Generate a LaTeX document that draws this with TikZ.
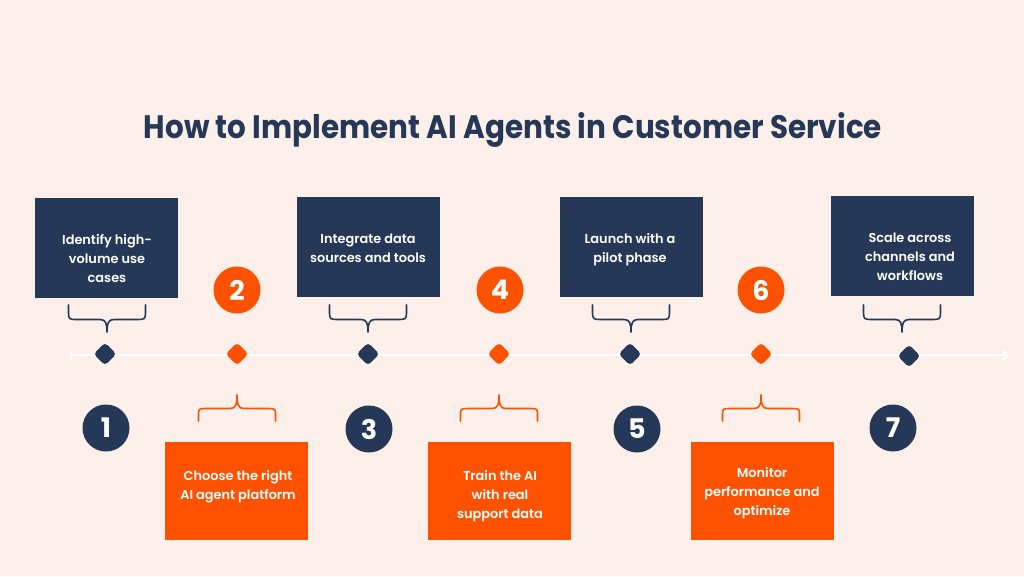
\documentclass[tikz,border=0pt]{standalone}
\usepackage{fontspec}
\setmainfont{Poppins}
\newfontfamily\labfont{Poppins SemiBold}
\usetikzlibrary{arrows.meta}
\definecolor{bg}{RGB}{253,240,234}
\definecolor{navy}{RGB}{37,56,88}
\definecolor{org}{RGB}{255,82,0}
\tikzset{
  navybox/.style={rectangle, fill=navy, minimum width=143pt, minimum height=100pt, inner sep=0},
  orgbox/.style={rectangle, fill=org, minimum width=143pt, minimum height=98pt, inner sep=0},
  lab/.style={text=white, align=center, inner sep=0, font=\labfont\fontsize{12.9}{19}\selectfont},
  diam/.style={rectangle, rotate=45, minimum size=16pt, rounded corners=3.5pt, inner sep=0},
  numc/.style={circle, minimum size=47pt, inner sep=0, text=white, font=\bfseries\fontsize{27}{27}\selectfont},
  bracedown/.pic={
    \draw[navy, line width=1.6pt, line cap=round, line join=round]
      (-38.5,0) -- (-38.5,8) .. controls (-38.5,14) and (-37,14.5) .. (-31,14.5)
      -- (-7,14.5) .. controls (-1.5,14.5) and (0,18) .. (0,27)
      .. controls (0,18) and (1.5,14.5) .. (7,14.5)
      -- (31,14.5) .. controls (37,14.5) and (38.5,14) .. (38.5,8) -- (38.5,0);
  },
  braceup/.pic={
    \draw[org, line width=1.6pt, line cap=round, line join=round]
      (-38.5,0) -- (-38.5,-8) .. controls (-38.5,-12) and (-37,-12.5) .. (-31,-12.5)
      -- (-7,-12.5) .. controls (-1.5,-12.5) and (0,-16) .. (0,-26)
      .. controls (0,-16) and (1.5,-12.5) .. (7,-12.5)
      -- (31,-12.5) .. controls (37,-12.5) and (38.5,-12) .. (38.5,-8) -- (38.5,0);
  }
}
\begin{document}
\begin{tikzpicture}[x=1pt,y=-1pt]
\fill[bg] (0,0) rectangle (1024,576);
\useasboundingbox (0,0) rectangle (1024,576);

% title
\node[text=navy, inner sep=0, font=\bfseries] (title) at (513,130)
  {\resizebox{738pt}{26pt}{How to Implement AI Agents in Customer Service}};

% timeline
\coordinate (ls) at (70,355);
\coordinate (le) at (1009,355);
\draw[white, line width=2pt, {Bar[width=9pt]}-{Straight Barb[length=5pt,width=9pt]}] (ls) -- (le);

% diamonds
\node[diam, fill=navy] (d1) at (105,354) {};
\node[diam, fill=org]  (d2) at (237,354) {};
\node[diam, fill=navy] (d3) at (368,354) {};
\node[diam, fill=org]  (d4) at (499,354) {};
\node[diam, fill=navy] (d5) at (630,354) {};
\node[diam, fill=org]  (d6) at (761,354) {};
\node[diam, fill=navy] (d7) at (909,356) {};

% navy boxes
\node[navybox] (b1) at (106.5,247.5) {};
\node[navybox] (b3) at (368.5,246.5) {};
\node[navybox] (b5) at (631.5,247) {};
\node[navybox] (b7) at (902.5,245.5) {};
\node[lab] (t1) at (107,258) {Identify high-\\volume use\\cases};
\node[lab] (t3) at (368,248.5) {Integrate data\\sources and tools};
\node[lab] (t5) at (630,249.5) {Launch with a\\pilot phase};
\node[lab] (t7) at (910,257) {Scale across\\channels and\\workflows};

% orange boxes
\node[orgbox] (b2) at (236.5,491) {};
\node[orgbox] (b4) at (499.5,491) {};
\node[orgbox] (b6) at (762.5,491) {};
\node[lab] (t2) at (238,487) {Choose the right\\AI agent platform};
\node[lab] (t4) at (500,496) {Train the AI\\with real\\support data};
\node[lab] (t6) at (762,493) {Monitor\\performance and\\optimize};

% braces
\pic at (107,305) {bracedown};
\pic at (368,305) {bracedown};
\pic at (631,305) {bracedown};
\pic at (902,305) {bracedown};
\pic at (237,421) {braceup};
\pic at (499,421) {braceup};
\pic at (761,421) {braceup};

% numbers
\node[numc, fill=navy] (n1) at (106,428) {1};
\node[numc, fill=org]  (n2) at (237,290) {2};
\node[numc, fill=navy] (n3) at (369,429) {3};
\node[numc, fill=org]  (n4) at (500,290) {4};
\node[numc, fill=navy] (n5) at (637,429) {5};
\node[numc, fill=org]  (n6) at (761,290) {6};
\node[numc, fill=navy] (n7) at (893,428) {7};
\end{tikzpicture}
\end{document}
